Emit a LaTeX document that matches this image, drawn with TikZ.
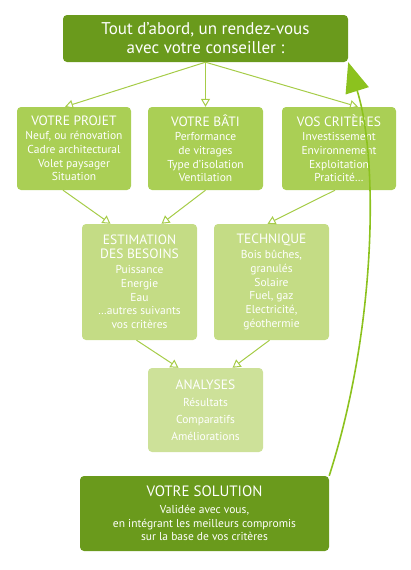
\documentclass[tikz,border=0pt]{standalone}
\usepackage{fontspec}
\setmainfont{PT Sans}
\usetikzlibrary{arrows.meta, positioning}

\definecolor{darkgreen}{HTML}{6A9A1C}
\definecolor{midgreen}{HTML}{AACF55}
\definecolor{lightgreen}{HTML}{C4DC85}
\definecolor{palegreen}{HTML}{CDE199}
\definecolor{linegreen}{HTML}{A6CC48}
\definecolor{arcgreen}{HTML}{8CC21E}

\newcommand{\hdr}[1]{{\fontsize{13.5}{15}\selectfont #1}}

\begin{document}
\begin{tikzpicture}[x=1pt, y=-1pt,
  box/.style={rounded corners=4pt, text=white, align=center, inner sep=0pt,
    font=\fontsize{11.5}{13.8}\selectfont},
  bigbox/.style={box, fill=darkgreen, font=\fontsize{17}{19}\selectfont},
  flow/.style={linegreen, line width=1pt, -{Triangle[open, length=8pt, width=9pt]}}]
\useasboundingbox (0,0) rectangle (410,570);

\node[bigbox, minimum width=285pt, minimum height=47pt] (start) at (205.5,38.5)
  {Tout d'abord, un rendez-vous\\avec votre conseiller :};

\node[box, fill=midgreen, minimum width=114pt, minimum height=83pt] (projet) at (74,148.5)
  {\hdr{VOTRE PROJET}\\Neuf, ou rénovation\\Cadre architectural\\Volet paysager\\Situation};
\node[box, fill=midgreen, minimum width=115pt, minimum height=83pt] (bati) at (205.5,148.5)
  {\hdr{VOTRE BÂTI}\\Performance\\de vitrages\\Type d'isolation\\Ventilation};
\node[box, fill=midgreen, minimum width=114pt, minimum height=83pt] (criteres) at (339,148.5)
  {\hdr{VOS CRITÈRES}\\Investissement\\Environnement\\Exploitation\\Praticité…};

\node[box, fill=lightgreen, minimum width=115pt, minimum height=116pt] (besoins) at (139.5,282)
  {\hdr{ESTIMATION}\\\hdr{DES BESOINS}\\[1pt]Puissance\\Energie\\Eau\\…autres suivants\\vos critères};
\node[box, fill=lightgreen, minimum width=115pt, minimum height=116pt] (technique) at (271.5,282)
  {\hdr{TECHNIQUE}\\[1pt]Bois bûches,\\granulés\\Solaire\\Fuel, gaz\\Electricité,\\géothermie};

\node[box, fill=palegreen, minimum width=115pt, minimum height=84pt,
  font=\fontsize{11.5}{17}\selectfont] (analyses) at (205.5,410)
  {\hdr{ANALYSES}\\Résultats\\Comparatifs\\Améliorations};

\node[box, fill=darkgreen, minimum width=249pt, minimum height=75pt] (solution) at (204.5,513.5)
  {{\fontsize{15}{17}\selectfont VOTRE SOLUTION}\\[3pt]Validée avec vous,\\en intégrant les meilleurs compromis\\sur la base de vos critères};

\draw[flow] (start.south) -- ([xshift=-9pt]projet.north);
\draw[flow] (start.south) -- (bati.north);
\draw[flow] (start.south) -- ([xshift=19pt]criteres.north);

\draw[flow] ([xshift=-11pt]projet.south) -- ([xshift=-29pt]besoins.north);
\draw[flow] (bati.south) -- ([xshift=22pt]besoins.north);
\draw[flow] ([xshift=-4pt]criteres.south) -- ([xshift=-4pt]technique.north);

\draw[flow] ([xshift=-3pt]besoins.south) -- ([xshift=-27pt]analyses.north);
\draw[flow] ([xshift=-2pt]technique.south) -- ([xshift=27pt]analyses.north);

% retour vers le conseiller
\draw[arcgreen, line width=1.6pt, -{Triangle[length=30pt, width=24pt]}]
  (solution.north east) .. controls (376,330) and (379,160) .. (start.south east);
\end{tikzpicture}
\end{document}
